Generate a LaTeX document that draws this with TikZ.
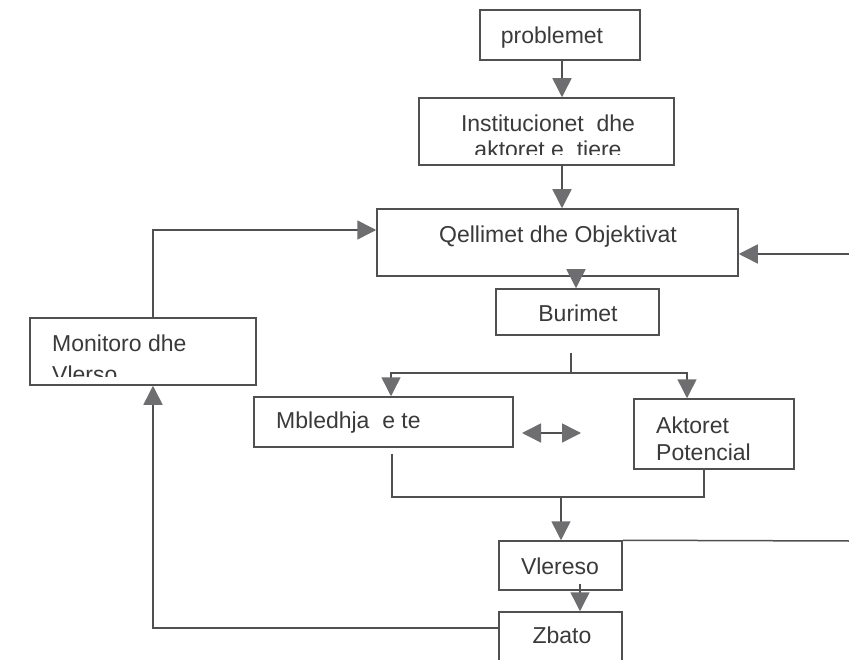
\documentclass[tikz,border=0pt]{standalone}
\usepackage{fontspec}
\setmainfont{Liberation Sans}
\usetikzlibrary{arrows.meta}
\definecolor{linegray}{HTML}{505050}
\definecolor{tipgray}{HTML}{6E6E70}
\definecolor{inkgray}{HTML}{3A3A3A}

\begin{document}
\begin{tikzpicture}[x=1pt,y=-1pt,
  box/.style={draw=linegray, line width=1.5pt, rectangle, inner sep=0pt},
  label/.style={text=inkgray, font=\fontsize{23}{27}\selectfont, inner sep=0pt},
  conn/.style={draw=linegray, line width=1.5pt},
  gtip/.tip={Triangle[length=19pt,width=19pt,color=tipgray]},
  arr/.style={conn, -gtip},
  ]
\useasboundingbox (0,0) rectangle (849,660);
\fill[white] (0,0) rectangle (849,660);
\clip (0,0) rectangle (849,660);

% boxes
\node[box, minimum width=160pt, minimum height=50pt] (prob) at (560,35) {};
\node[box, minimum width=255pt, minimum height=67pt] (inst) at (546.5,131.5) {};
\node[box, minimum width=361pt, minimum height=67pt] (qell) at (557.5,242.5) {};
\node[box, minimum width=163pt, minimum height=46pt] (bur) at (577.5,312) {};
\node[box, minimum width=226pt, minimum height=67pt] (mon) at (143,351.5) {};
\node[box, minimum width=259pt, minimum height=50pt] (mbl) at (383.5,422) {};
\node[box, minimum width=160pt, minimum height=70pt] (akt) at (714,434) {};
\node[box, minimum width=123pt, minimum height=49pt] (vle) at (560.5,565.5) {};
\node[box, minimum width=123pt, minimum height=78pt] (zba) at (560.5,651) {};

% labels
\node[label, anchor=base] (probtxt) at (552,43.5) {problemet};
\node[label, anchor=base] (insttxt) at (548,131.5) {Institucionet~~dhe};
\begin{scope}
  \clip (419,98) rectangle (674,155);
  \node[label, anchor=base] (insttxtb) at (548,158) {aktoret e~~tiere};
\end{scope}
\node[label, anchor=base] (qelltxt) at (558,243) {Qellimet dhe Objektivat};
\node[label, anchor=base] (burtxt) at (578,322) {Burimet};
\node[label, anchor=base west] (montxt) at (52,352) {Monitoro dhe};
\begin{scope}
  \clip (30,318) rectangle (256,376);
  \node[label, anchor=base west] (montxtb) at (52,382) {Vlerso};
\end{scope}
\node[label, anchor=base west] (mbltxt) at (276,428) {Mbledhja~~e te};
\node[label, anchor=base west] (akttxt) at (656,433) {Aktoret};
\node[label, anchor=base west] (akttxtb) at (656,460) {Potencial};
\node[label, anchor=base] (vletxt) at (560,574.5) {Vlereso};
\node[label, anchor=base] (zbatxt) at (562,643) {Zbato};

% free ends and junctions
\coordinate (rfar) at (849,254);
\coordinate (vfar) at (849,541);
\coordinate (split) at (571,373);
\coordinate (merge) at (561,497);
\coordinate (dl) at (522,433);
\coordinate (dr) at (581,433);

% main flow
\draw[arr] (562,0 |- prob.south) -- (562,0 |- inst.north);
\draw[arr] (562,0 |- inst.south) -- (562,0 |- qell.north);
\draw[arr, shorten <=-6pt] (576,0 |- qell.south) -- (576,0 |- bur.north);
\draw[conn, shorten <=17pt] (571,0 |- bur.south) -- (split);
\draw[arr] (split) -| (391,0 |- mbl.north);
\draw[arr] (split) -| (687,0 |- akt.north);
\draw[conn, gtip-gtip] (dl) -- (dr);
\draw[conn, shorten <=6pt] (392,0 |- mbl.south) |- (merge);
\draw[conn] (704,0 |- akt.south) |- (merge);
\draw[arr] (merge) -- (561,0 |- vle.north);
\draw[arr, shorten <=-7pt] (580,0 |- vle.south) -- (580,0 |- zba.north);

% feedback loops
\draw[conn] (vle.north east) -- (vfar);
\draw[arr] (rfar) -- (qell.east |- rfar);
\draw[arr] (zba.west |- 0,628) -| (153,0 |- mon.south);
\draw[arr] (153,0 |- mon.north) |- (qell.west |- 0,230);
\end{tikzpicture}
\end{document}
